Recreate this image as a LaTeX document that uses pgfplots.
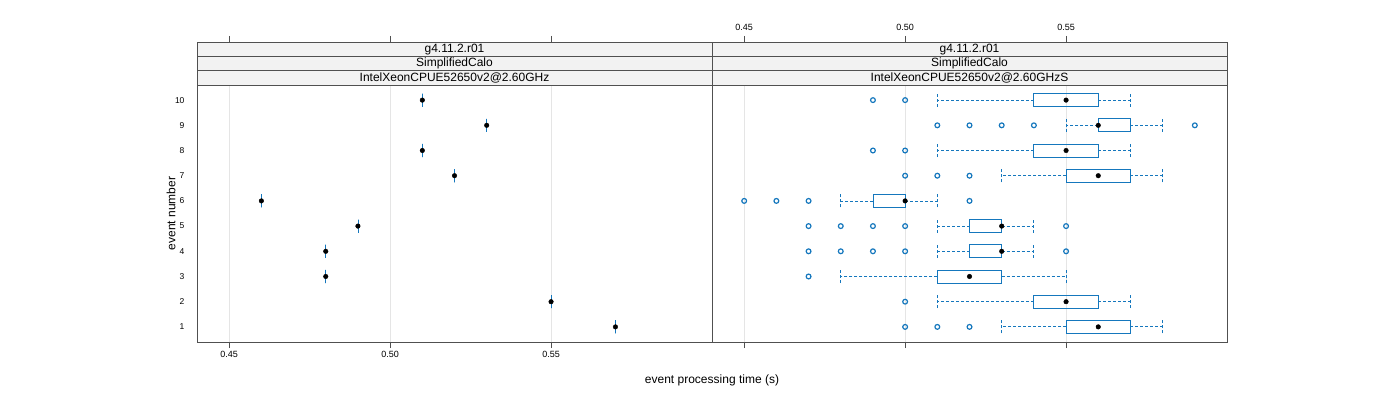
\documentclass[border=0pt]{standalone}
\usepackage{fontspec}
\setmainfont{Liberation Sans}
\usepackage{pgfplots}
\pgfplotsset{compat=1.18}
\usepgfplotslibrary{statistics}
\definecolor{bx}{HTML}{1577BD}
\definecolor{stripbg}{HTML}{F2F2F2}
\definecolor{frame}{HTML}{505050}
\pgfplotsset{
  panel/.style={scale only axis, width=515pt, height=257pt, anchor=south west,
    xmin=0.44, xmax=0.60, ymin=0.4, ymax=10.6,
    xtick={0.45,0.50,0.55}, xtick pos=bottom,
    ytick={1,2,3,4,5,6,7,8,9,10}, ytick style={draw=none},
    tick align=outside, major tick length=6pt,
    xmajorgrids, grid style={black!10, line width=0.7pt},
    axis line style={frame, line width=0.8pt},
    x tick style={frame, line width=0.7pt},
    ticklabel style={font=\fontsize{9}{10}\selectfont},
    boxplot/draw direction=x},
  bp/.style={draw=bx, line width=0.8pt, solid, mark=none,
    boxplot/every median/.style={draw=none},
    boxplot/every whisker/.style={dash pattern=on 3pt off 2pt},
    boxplot/box extend=0.52, boxplot/whisker extend=0.52},
  med/.style={only marks, mark=*, mark size=2.3pt, black},
  outl/.style={only marks, mark=o, mark size=2.4pt, bx, line width=1.2pt},
  topax/.style={scale only axis, width=515pt, height=300pt, anchor=south west,
    xmin=0.44, xmax=0.60, ymin=0, ymax=1, hide y axis,
    xtick={0.45,0.50,0.55}, xtick pos=top, tick align=outside, major tick length=6pt,
    axis line style={frame, line width=0.8pt},
    x tick style={frame, line width=0.7pt},
    ticklabel style={font=\fontsize{9}{10}\selectfont}}
}
\tikzset{strip/.style={draw=frame, fill=stripbg, line width=0.8pt},
  stxt/.style={font=\fontsize{12}{13}\selectfont, inner sep=0pt}}
\begin{document}
\begin{tikzpicture}
\useasboundingbox (0,0) rectangle (1400pt,400pt);
% top tick axes (above strips)
\begin{axis}[topax, at={(197pt,58pt)}, xticklabels={}]
\end{axis}
\begin{axis}[topax, at={(712pt,58pt)}, xticklabels={0.45,0.50,0.55}, xticklabel style={yshift=1.5pt}]
\end{axis}
% left panel
\begin{axis}[panel, at={(197pt,58pt)}, xticklabels={0.45,0.50,0.55},
  yticklabels={1,2,3,4,5,6,7,8,9,10}, yticklabel style={xshift=-3pt, font=\fontsize{8.5}{10}\selectfont}]
\addplot[bp, boxplot prepared={draw position=10, lower whisker=0.51, lower quartile=0.51, median=0.51, upper quartile=0.51, upper whisker=0.51}] coordinates {};
\addplot[bp, boxplot prepared={draw position=9, lower whisker=0.53, lower quartile=0.53, median=0.53, upper quartile=0.53, upper whisker=0.53}] coordinates {};
\addplot[bp, boxplot prepared={draw position=8, lower whisker=0.51, lower quartile=0.51, median=0.51, upper quartile=0.51, upper whisker=0.51}] coordinates {};
\addplot[bp, boxplot prepared={draw position=7, lower whisker=0.52, lower quartile=0.52, median=0.52, upper quartile=0.52, upper whisker=0.52}] coordinates {};
\addplot[bp, boxplot prepared={draw position=6, lower whisker=0.46, lower quartile=0.46, median=0.46, upper quartile=0.46, upper whisker=0.46}] coordinates {};
\addplot[bp, boxplot prepared={draw position=5, lower whisker=0.49, lower quartile=0.49, median=0.49, upper quartile=0.49, upper whisker=0.49}] coordinates {};
\addplot[bp, boxplot prepared={draw position=4, lower whisker=0.48, lower quartile=0.48, median=0.48, upper quartile=0.48, upper whisker=0.48}] coordinates {};
\addplot[bp, boxplot prepared={draw position=3, lower whisker=0.48, lower quartile=0.48, median=0.48, upper quartile=0.48, upper whisker=0.48}] coordinates {};
\addplot[bp, boxplot prepared={draw position=2, lower whisker=0.55, lower quartile=0.55, median=0.55, upper quartile=0.55, upper whisker=0.55}] coordinates {};
\addplot[bp, boxplot prepared={draw position=1, lower whisker=0.57, lower quartile=0.57, median=0.57, upper quartile=0.57, upper whisker=0.57}] coordinates {};
\addplot[med] coordinates {(0.51,10) (0.53,9) (0.51,8) (0.52,7) (0.46,6) (0.49,5) (0.48,4) (0.48,3) (0.55,2) (0.57,1)};
\end{axis}
% right panel
\begin{axis}[panel, at={(712pt,58pt)}, xticklabels={}, yticklabels={}]
\addplot[bp, boxplot prepared={draw position=10, lower whisker=0.51, lower quartile=0.54, median=0.55, upper quartile=0.56, upper whisker=0.57}] coordinates {};
\addplot[bp, boxplot prepared={draw position=9, lower whisker=0.55, lower quartile=0.56, median=0.56, upper quartile=0.57, upper whisker=0.58}] coordinates {};
\addplot[bp, boxplot prepared={draw position=8, lower whisker=0.51, lower quartile=0.54, median=0.55, upper quartile=0.56, upper whisker=0.57}] coordinates {};
\addplot[bp, boxplot prepared={draw position=7, lower whisker=0.53, lower quartile=0.55, median=0.56, upper quartile=0.57, upper whisker=0.58}] coordinates {};
\addplot[bp, boxplot prepared={draw position=6, lower whisker=0.48, lower quartile=0.49, median=0.50, upper quartile=0.50, upper whisker=0.51}] coordinates {};
\addplot[bp, boxplot prepared={draw position=5, lower whisker=0.51, lower quartile=0.52, median=0.53, upper quartile=0.53, upper whisker=0.54}] coordinates {};
\addplot[bp, boxplot prepared={draw position=4, lower whisker=0.51, lower quartile=0.52, median=0.53, upper quartile=0.53, upper whisker=0.54}] coordinates {};
\addplot[bp, boxplot prepared={draw position=3, lower whisker=0.48, lower quartile=0.51, median=0.52, upper quartile=0.53, upper whisker=0.55}] coordinates {};
\addplot[bp, boxplot prepared={draw position=2, lower whisker=0.51, lower quartile=0.54, median=0.55, upper quartile=0.56, upper whisker=0.57}] coordinates {};
\addplot[bp, boxplot prepared={draw position=1, lower whisker=0.53, lower quartile=0.55, median=0.56, upper quartile=0.57, upper whisker=0.58}] coordinates {};
\addplot[outl] coordinates {
  (0.49,10) (0.50,10)
  (0.51,9) (0.52,9) (0.53,9) (0.54,9) (0.59,9)
  (0.49,8) (0.50,8)
  (0.50,7) (0.51,7) (0.52,7)
  (0.45,6) (0.46,6) (0.47,6) (0.52,6)
  (0.47,5) (0.48,5) (0.49,5) (0.50,5) (0.55,5)
  (0.47,4) (0.48,4) (0.49,4) (0.50,4) (0.55,4)
  (0.47,3)
  (0.50,2)
  (0.50,1) (0.51,1) (0.52,1)};
\addplot[med] coordinates {(0.55,10) (0.56,9) (0.55,8) (0.56,7) (0.50,6) (0.53,5) (0.53,4) (0.52,3) (0.55,2) (0.56,1)};
\end{axis}
% strips
\foreach \x/\lab in {197/{IntelXeonCPUE52650v2@2.60GHz}, 712/{IntelXeonCPUE52650v2@2.60GHzS}} {
  \draw[strip] (\x pt,343.67pt) rectangle ++(515pt,14.33pt);
  \node[stxt] at ([xshift=257.5pt]\x pt,350.83pt) {g4.11.2.r01};
  \draw[strip] (\x pt,329.33pt) rectangle ++(515pt,14.33pt);
  \node[stxt] at ([xshift=257.5pt]\x pt,336.5pt) {SimplifiedCalo};
  \draw[strip] (\x pt,315pt) rectangle ++(515pt,14.33pt);
  \node[stxt] at ([xshift=257.5pt]\x pt,322.17pt) {\lab};
}
% axis titles
\node[font=\fontsize{12}{13}\selectfont, rotate=90] at (171pt,186.5pt) {event number};
\node[font=\fontsize{12}{13}\selectfont] at (712pt,20pt) {event processing time (s)};
\end{tikzpicture}
\end{document}
